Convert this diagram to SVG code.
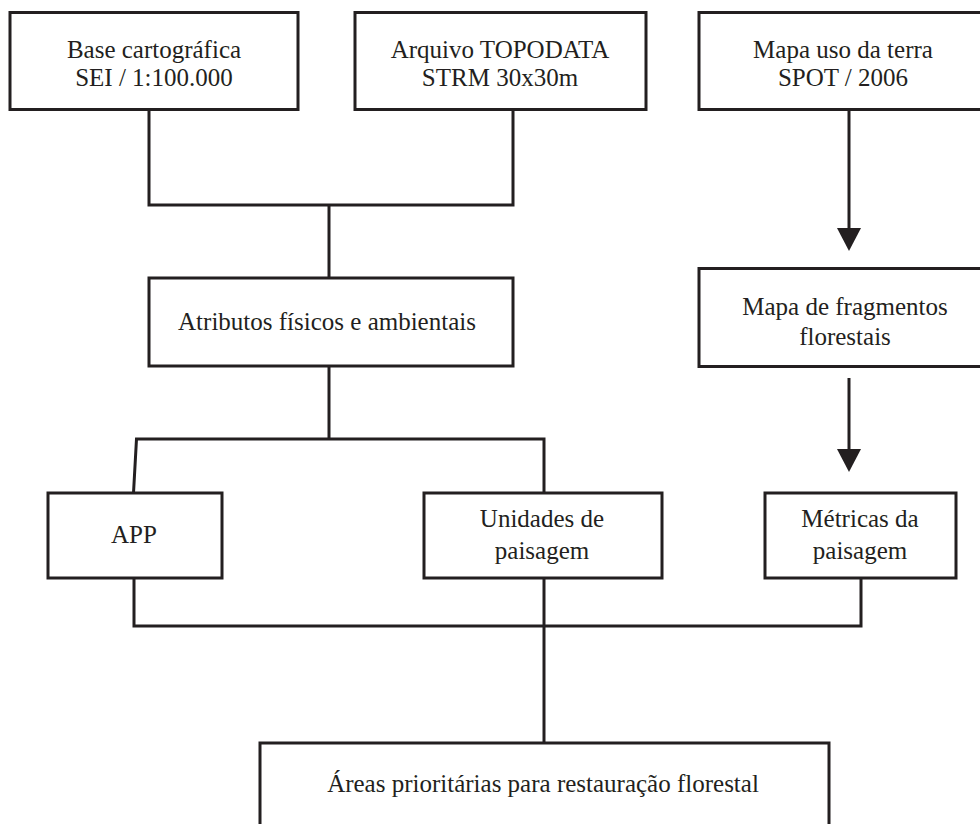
<svg xmlns="http://www.w3.org/2000/svg" width="980" height="824" viewBox="0 0 980 824">
<style>
.box{fill:#ffffff;stroke:#231f20;stroke-width:3}
.ln{fill:none;stroke:#231f20;stroke-width:3}
.t{font-family:"Liberation Serif","Times New Roman",serif;font-size:25px;fill:#231f20;text-anchor:middle}
</style>
<defs>
<marker id="ah" viewBox="0 0 23 24" refX="2" refY="12" markerWidth="23" markerHeight="24" markerUnits="userSpaceOnUse" orient="auto">
<path d="M0,0 L23,12 L0,24 Z" fill="#231f20"/>
</marker>
</defs>
<rect width="980" height="824" fill="#ffffff"/>
<g id="connectors">
<path class="ln" d="M149,110 V205 H513 V110"/>
<path class="ln" d="M329,205 V278"/>
<path class="ln" d="M329,366 V439"/>
<path class="ln" d="M133.5,493 L136.5,439 H544 V493"/>
<path class="ln" d="M849,110 V230" marker-end="url(#ah)"/>
<path class="ln" d="M849,378 V451" marker-end="url(#ah)"/>
<path class="ln" d="M134,578 V626 H861 V578"/>
<path class="ln" d="M544,578 V743"/>
</g>
<g id="base">
<rect class="box" x="10" y="12.5" width="288" height="97"/>
<text class="t" x="154" y="58">Base cartográfica</text>
<text class="t" x="154" y="86">SEI / 1:100.000</text>
</g>
<g id="topodata">
<rect class="box" x="355" y="12.5" width="291" height="97"/>
<text class="t" x="500" y="58">Arquivo TOPODATA</text>
<text class="t" x="500" y="86">STRM 30x30m</text>
</g>
<g id="usoterra">
<rect class="box" x="699" y="12.5" width="292" height="97"/>
<text class="t" x="843" y="58">Mapa uso da terra</text>
<text class="t" x="843" y="86">SPOT / 2006</text>
</g>
<g id="atributos">
<rect class="box" x="149" y="278" width="364" height="88"/>
<text class="t" x="327" y="330">Atributos físicos e ambientais</text>
</g>
<g id="fragmentos">
<rect class="box" x="699" y="268.5" width="292" height="98"/>
<text class="t" x="845" y="315">Mapa de fragmentos</text>
<text class="t" x="845" y="345">florestais</text>
</g>
<g id="app">
<rect class="box" x="48" y="493" width="174" height="85"/>
<text class="t" x="134" y="543">APP</text>
</g>
<g id="unidades">
<rect class="box" x="424" y="493" width="238" height="85"/>
<text class="t" x="542" y="527">Unidades de</text>
<text class="t" x="542" y="559">paisagem</text>
</g>
<g id="metricas">
<rect class="box" x="765" y="493" width="191" height="85"/>
<text class="t" x="860" y="527">Métricas da</text>
<text class="t" x="860" y="559">paisagem</text>
</g>
<g id="areas">
<rect class="box" x="260" y="743" width="569" height="100"/>
<text class="t" x="543" y="792">Áreas prioritárias para restauração florestal</text>
</g>
</svg>
